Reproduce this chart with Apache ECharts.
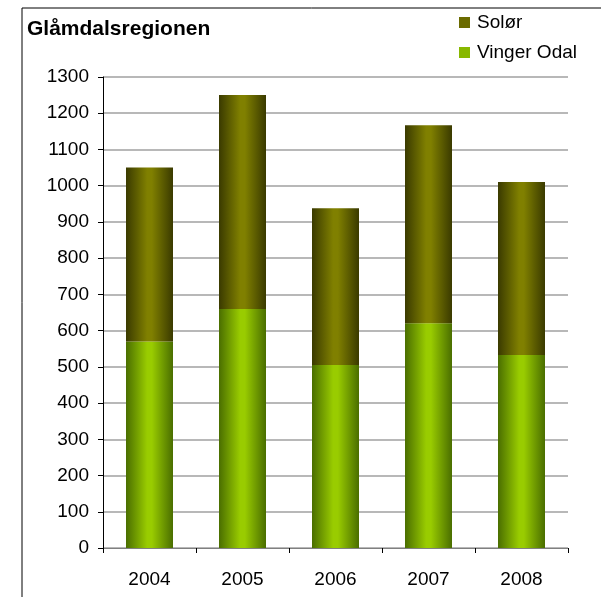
<!DOCTYPE html>
<html>
<head>
<meta charset="utf-8">
<script src="https://cdn.jsdelivr.net/npm/echarts@6/dist/echarts.min.js"></script>
<style>
html, body { margin: 0; padding: 0; background: #fff; }
#chart { width: 601px; height: 597px; }
</style>
</head>
<body>
<div id="chart"></div>
<script>
const years = ['2004', '2005', '2006', '2007', '2008'];
const vingerOdal = [570, 660, 505, 620, 533];
const solor = [480, 590, 433, 547, 477];
const yTicks = [0, 100, 200, 300, 400, 500, 600, 700, 800, 900, 1000, 1100, 1200, 1300];

const font = '"Liberation Sans", Arial, sans-serif';

// horizontal gradient: dark edges, light middle
const barGrad = (edge, mid) => new echarts.graphic.LinearGradient(0, 0, 1, 0, [
    { offset: 0, color: edge },
    { offset: 0.45, color: mid },
    { offset: 0.55, color: mid },
    { offset: 1, color: edge }
]);

const chart = echarts.init(document.getElementById('chart'));
const option = {
    animation: false,
    backgroundColor: '#fff',
    title: {
        text: 'Glåmdalsregionen',
        left: 22,
        top: 14,
        textStyle: { fontFamily: font, fontSize: 21, fontWeight: 'bold', color: '#000' }
    },
    legend: {
        orient: 'vertical',
        left: 454,
        top: 8,
        itemWidth: 11,
        itemHeight: 11,
        itemGap: 11,
        icon: 'rect',
        data: [
            { name: 'Solør', itemStyle: { color: '#6b6b00' } },
            { name: 'Vinger Odal', itemStyle: { color: '#88b800' } }
        ],
        textStyle: { fontFamily: font, fontSize: 19, color: '#000', padding: [0, 0, 0, 2] }
    },
    graphic: [
        { type: 'line', shape: { x1: 22, y1: 8, x2: 601, y2: 8 }, style: { stroke: '#000', lineWidth: 1 } },
        { type: 'line', shape: { x1: 22, y1: 8, x2: 22, y2: 597 }, style: { stroke: '#000', lineWidth: 1 } }
    ],
    grid: { left: 103, top: 77, right: 33, bottom: 49 },
    xAxis: {
        type: 'category',
        data: years,
        axisLine: { lineStyle: { color: '#808080', width: 1 } },
        axisTick: { show: true, length: 5, lineStyle: { color: '#000' } },
        axisLabel: { fontFamily: font, fontSize: 19, color: '#000', margin: 22 }
    },
    yAxis: {
        type: 'value',
        min: yTicks[0],
        max: yTicks[yTicks.length - 1],
        interval: 100,
        axisLine: { show: true, lineStyle: { color: '#000', width: 1 } },
        axisTick: { show: true, length: 5, lineStyle: { color: '#000' } },
        axisLabel: { fontFamily: font, fontSize: 19, color: '#000', margin: 14, formatter: (v) => String(v) },
        splitLine: { lineStyle: { color: '#a0a0a0', width: 1.5 } }
    },
    series: [
        {
            name: 'Vinger Odal',
            type: 'bar',
            stack: 'total',
            barWidth: 47,
            data: vingerOdal,
            itemStyle: { color: barGrad('#4a6e00', '#99cc00') }
        },
        {
            name: 'Solør',
            type: 'bar',
            stack: 'total',
            barWidth: 47,
            data: solor,
            itemStyle: { color: barGrad('#3a3a00', '#808000') }
        }
    ]
};
chart.setOption(option);
</script>
</body>
</html>
